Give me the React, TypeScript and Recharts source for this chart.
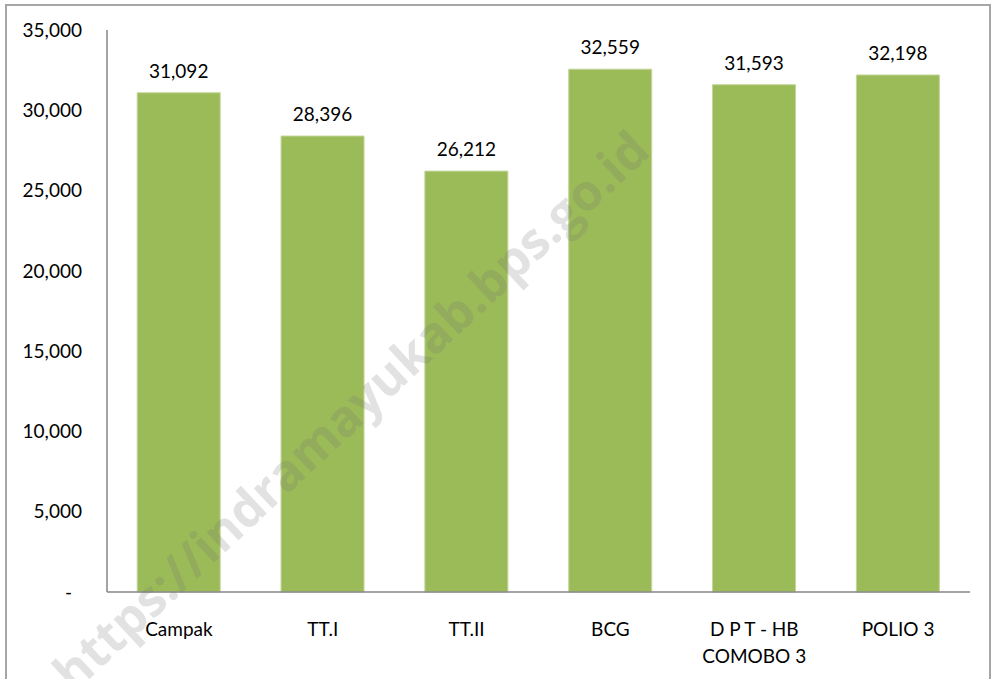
import React from "react";
import { BarChart, Bar, XAxis, YAxis, LabelList } from "recharts";

const categories = ["Campak", "TT.I", "TT.II", "BCG", "D P T - HB\nCOMOBO 3", "POLIO 3"];
const values = [31092, 28396, 26212, 32559, 31593, 32198];
const yTicks = [0, 5000, 10000, 15000, 20000, 25000, 30000, 35000];

const data = categories.map((name, i) => ({ name, value: values[i] }));

const FONT = "Lato, 'Open Sans', sans-serif";
const fmt = (v: number) => v.toLocaleString("en-US");

function YTick(props: any) {
  const { x, y, payload } = props;
  const v = payload.value as number;
  return (
    <text x={v === 0 ? x - 10 : x} y={y} dy="0.35em" textAnchor="end" fontSize={19} fill="#000" fontFamily={FONT}>
      {v === 0 ? "-" : fmt(v)}
    </text>
  );
}

function XTick(props: any) {
  const { x, y, payload } = props;
  const lines = String(payload.value).split("\n");
  return (
    <text x={x} y={y + 44} textAnchor="middle" fontSize={19} fill="#000" fontFamily={FONT}>
      {lines.map((l, i) => (
        <tspan key={i} x={x} dy={i === 0 ? 0 : 27}>
          {l}
        </tspan>
      ))}
    </text>
  );
}

export default function App() {
  return (
    <div style={{ position: "fixed", left: 0, top: 0, width: 998, height: 679, overflow: "hidden", background: "#fff" }}>
      <div
        style={{
          position: "absolute",
          left: 5,
          top: 4,
          width: 986,
          height: 700,
          border: "2px solid #A6A6A6",
          boxSizing: "border-box",
        }}
      />
      <div style={{ position: "absolute", left: 0, top: 0 }}>
        <BarChart width={998} height={679} data={data} margin={{ top: 30, right: 28, left: 0, bottom: 0 }} barCategoryGap="21%">
          <YAxis
            width={107}
            domain={[0, 35000]}
            ticks={yTicks}
            tickLine={false}
            tickSize={0}
            tickMargin={25}
            axisLine={{ stroke: "#868686", strokeWidth: 1.5 }}
            tick={<YTick />}
          />
          <XAxis
            dataKey="name"
            height={87}
            tickLine={false}
            tickSize={0}
            tickMargin={0}
            interval={0}
            axisLine={{ stroke: "#868686", strokeWidth: 1.5 }}
            tick={<XTick />}
          />
          <Bar dataKey="value" fill="#9BBB59" stroke="#C3D69B" strokeWidth={1} isAnimationActive={false}>
            <LabelList dataKey="value" position="top" offset={15} formatter={(v: any) => fmt(Number(v))} fontSize={19} fill="#000" fontFamily={FONT} />
          </Bar>
        </BarChart>
      </div>
      <div
        style={{
          position: "absolute",
          left: 350,
          top: 410,
          transform: "translate(-50%, -50%) rotate(-43deg)",
          whiteSpace: "nowrap",
          fontFamily: "'Open Sans', sans-serif",
          fontWeight: 700,
          fontSize: 50,
          color: "rgba(110,110,110,0.2)",
          pointerEvents: "none",
        }}
      >
        https://indramayukab.bps.go.id
      </div>
    </div>
  );
}
